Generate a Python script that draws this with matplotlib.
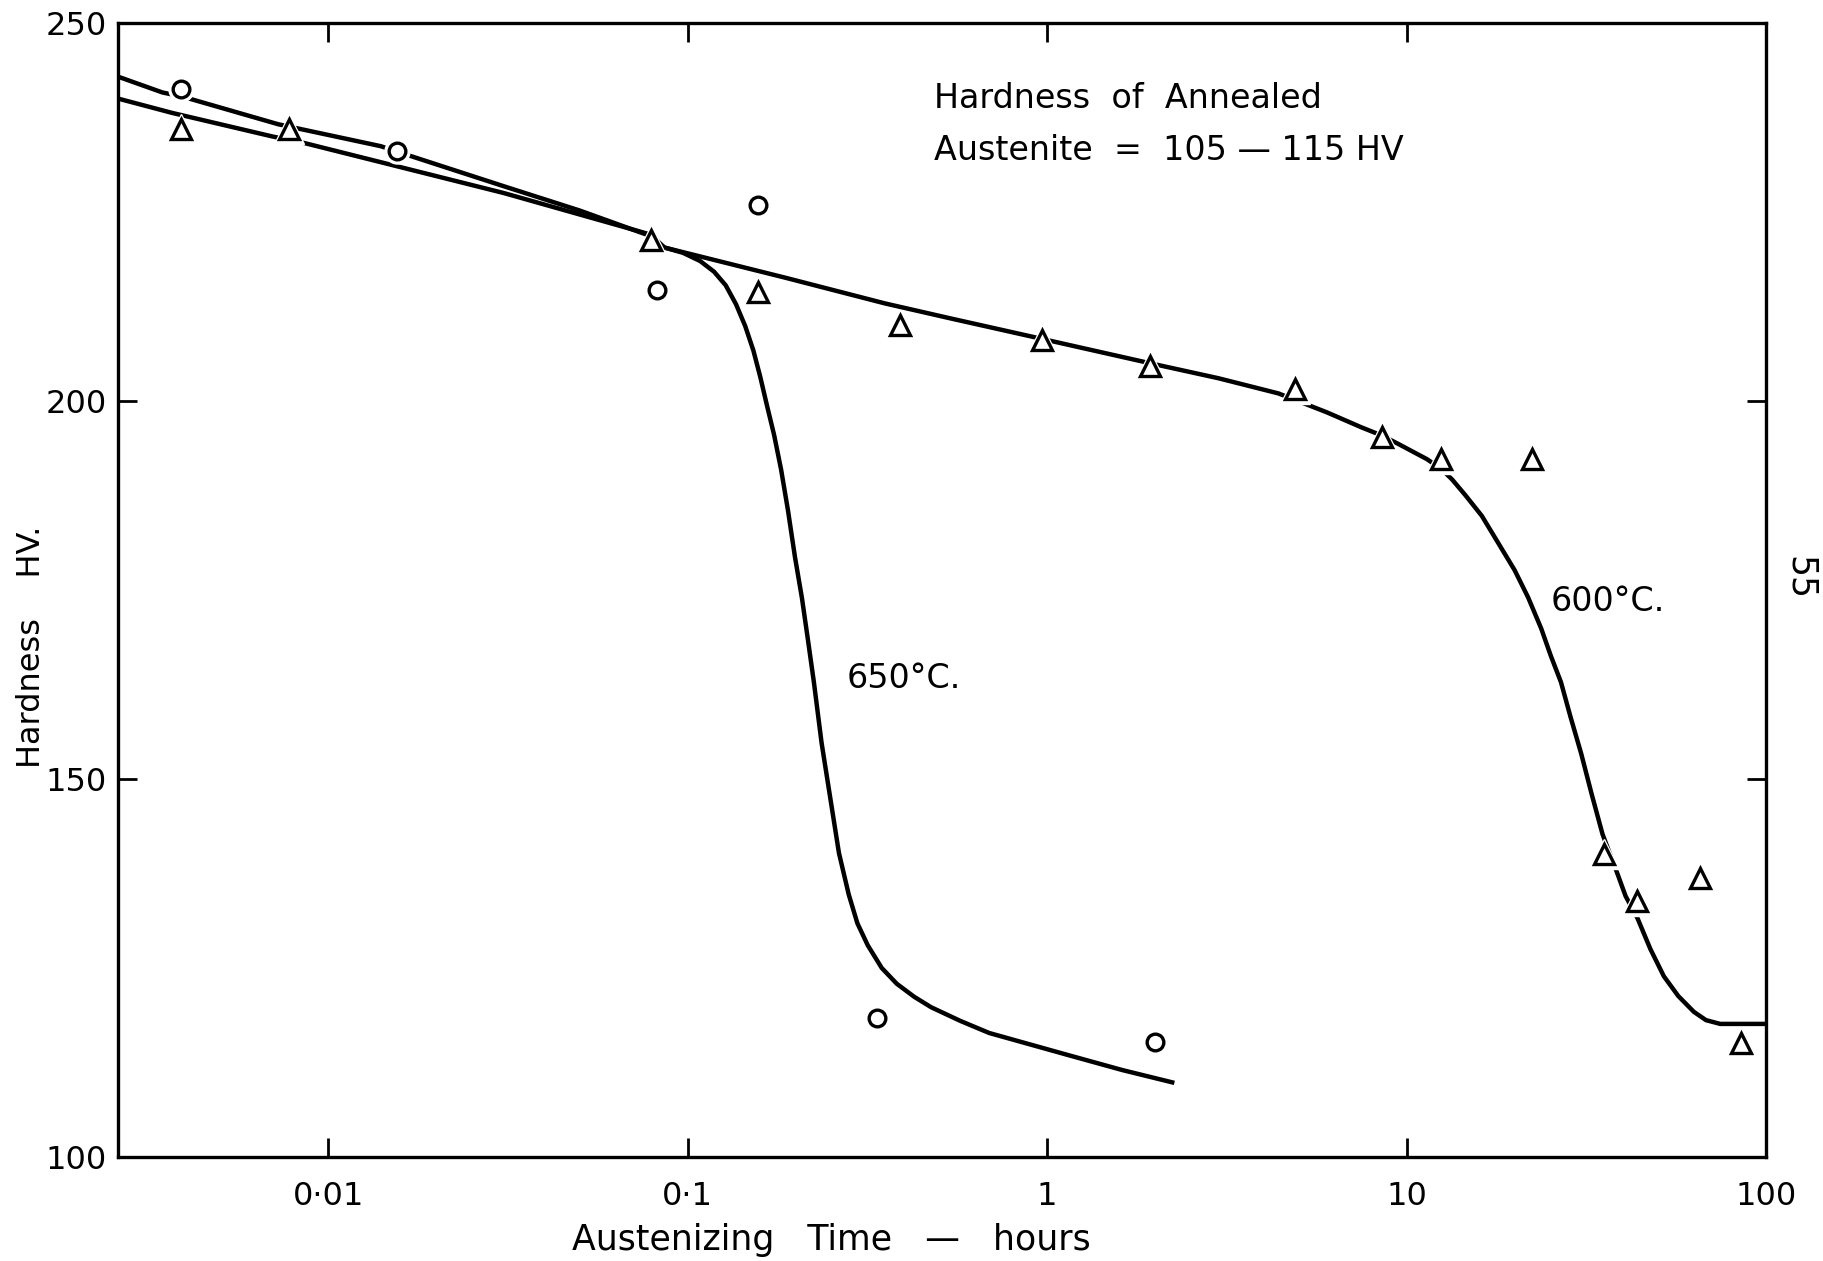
import matplotlib
matplotlib.use('Agg')
import matplotlib.pyplot as plt
from matplotlib.ticker import NullLocator

plt.rcParams['font.family'] = ['DejaVu Sans']

# measured points, 650 C (circles)
t650_pts = [0.0039, 0.0155, 0.082, 0.157, 0.336, 2.0]
hv650_pts = [241.2, 233.0, 214.7, 225.9, 118.4, 115.2]

# measured points, 600 C (triangles)
t600_pts = [0.0039, 0.0078, 0.079, 0.157, 0.39, 0.97, 1.93, 4.88,
            8.57, 12.5, 22.3, 35.5, 43.7, 65.6, 85.1]
hv600_pts = [236.0, 236.0, 221.3, 214.4, 210.1, 208.1, 204.6, 201.6,
             195.2, 192.3, 192.3, 140.1, 133.8, 136.9, 115.1]

# hand drawn curves
t650_curve = [0.0026, 0.00346, 0.0039, 0.00726, 0.014, 0.0155, 0.0308, 0.05,
              0.079, 0.0861, 0.097, 0.1084, 0.1184, 0.1276, 0.1363, 0.1446,
              0.1523, 0.1592, 0.1664, 0.174, 0.182, 0.1902, 0.1988, 0.208,
              0.2158, 0.2245, 0.2358, 0.2495, 0.2636, 0.2807, 0.2967, 0.317,
              0.3467, 0.382, 0.4265, 0.476, 0.5736, 0.69, 0.8946, 1.16,
              1.618, 2.26]
hv650_curve = [242.9, 240.8, 240.3, 236.6, 233.7, 233.0, 228.4, 225.2,
               221.8, 220.3, 219.6, 218.5, 217.1, 215.3, 212.8, 209.9,
               206.7, 203.2, 199.3, 195.5, 190.9, 185.5, 179.4, 173.9,
               168.6, 162.8, 154.8, 147.4, 140.2, 134.7, 130.9, 128.0,
               125.0, 122.9, 121.2, 119.8, 118.0, 116.4, 114.9, 113.4,
               111.5, 109.8]

t600_curve = [0.0026, 0.00368, 0.00697, 0.00861, 0.0308, 0.079, 0.0861, 0.187,
              0.354, 0.541, 0.97, 1.93, 3.0, 4.4, 6.0, 7.5, 8.57, 9.5, 11.4,
              12.5, 13.4, 14.6, 16.2, 17.95, 20.0, 21.8, 23.7, 25.2, 26.9,
              28.6, 30.6, 32.7, 35.1, 38.6, 40.7, 43.9, 47.7, 52.0, 57.0,
              63.0, 68.1, 74.6, 100.0]
hv600_curve = [240.0, 238.1, 235.0, 234.1, 227.5, 222.0, 220.3, 216.3,
               212.9, 210.9, 208.2, 205.0, 203.0, 201.0, 198.5, 196.5, 195.4,
               194.3, 192.3, 191.0, 189.6, 187.5, 184.8, 181.3, 177.6, 174.0,
               169.9, 166.3, 162.8, 158.2, 153.4, 148.1, 142.7, 137.5, 134.5,
               131.6, 127.5, 123.9, 121.3, 119.2, 118.1, 117.6, 117.6]

x_ticks = [0.01, 0.1, 1, 10, 100]
x_labels = ['0·01', '0·1', '1', '10', '100']
y_ticks = [100, 150, 200, 250]

fig = plt.figure(figsize=(18.23, 12.61), dpi=100)
ax = fig.add_axes([0.0647, 0.0825, 0.904, 0.8993])

# curves
ax.plot(t650_curve, hv650_curve, color='black', lw=3.2, zorder=2,
        solid_capstyle='butt', solid_joinstyle='round')
ax.plot(t600_curve, hv600_curve, color='black', lw=3.2, zorder=2,
        solid_capstyle='butt', solid_joinstyle='round')

# white halos so the lines break at the symbols
ax.plot(t650_pts, hv650_pts, ls='none', marker='o', ms=18,
        mfc='white', mec='white', zorder=3)
ax.plot(t600_pts, hv600_pts, ls='none', marker='^', ms=21,
        mfc='white', mec='white', zorder=3)

# symbols
ax.plot(t650_pts, hv650_pts, ls='none', marker='o', ms=12,
        mfc='white', mec='black', mew=2.4, zorder=4)
ax.plot(t600_pts, hv600_pts, ls='none', marker='^', ms=15,
        mfc='white', mec='black', mew=2.4, zorder=4)

ax.set_xscale('log')
ax.set_xlim(0.0026, 100)
ax.set_ylim(100, 250)
ax.set_xticks(x_ticks, x_labels)
ax.set_yticks(y_ticks)
ax.xaxis.set_minor_locator(NullLocator())
ax.tick_params(direction='in', top=True, right=True, length=14, width=2,
               labelsize=23)
ax.tick_params(axis='x', pad=17)
ax.tick_params(axis='y', pad=8)
for s in ax.spines.values():
    s.set_linewidth(2.4)

ax.set_xlabel('Austenizing   Time   —   hours', fontsize=25)
ax.xaxis.set_label_coords(0.433, -0.058)
ax.set_ylabel('Hardness    HV.', fontsize=23)
ax.yaxis.set_label_coords(-0.043, 0.450)

ax.text(0.484, 240.0, 'Hardness  of  Annealed', fontsize=24,
        va='center', ha='left')
ax.text(0.484, 233.1, 'Austenite  =  105 — 115 HV', fontsize=24,
        va='center', ha='left')
ax.text(0.277, 163.3, '650°C.', fontsize=24, va='center', ha='left')
ax.text(25.2, 173.5, '600°C.', fontsize=24, va='center', ha='left')

fig.text(1800 / 1823, 1 - 578 / 1261, '55', fontsize=25, rotation=-90,
         ha='center', va='center')

fig.savefig('out.png', dpi=100, facecolor='white')
